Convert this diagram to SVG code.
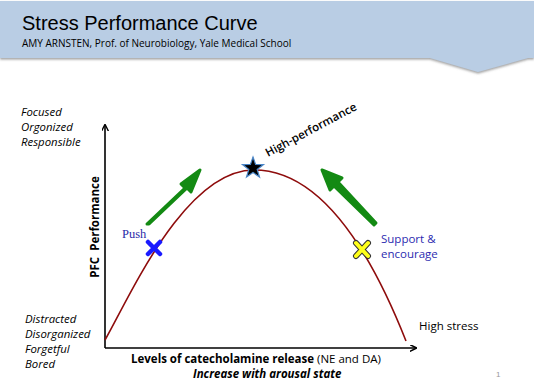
<svg xmlns="http://www.w3.org/2000/svg" width="534" height="384" viewBox="0 0 534 384">
<style>
.side{font-family:"Open Sans","Liberation Sans",sans-serif;font-style:italic;font-size:11.4px;fill:#000}
.lbl{font-family:"Open Sans","Liberation Sans",sans-serif;font-size:11.5px}
.axis{stroke:#000;stroke-width:1.6;fill:none}
.garrow{fill:#138a13}
</style>
<defs>
<marker id="ah" viewBox="0 0 10 10" refX="9" refY="5" markerWidth="7" markerHeight="7" markerUnits="userSpaceOnUse" orient="auto">
<path d="M0,0 L10,5 L0,10" fill="none" stroke="#000" stroke-width="2"/>
</marker>
<filter id="sh" x="-5%" y="-5%" width="110%" height="130%">
<feDropShadow dx="0" dy="1.5" stdDeviation="1" flood-color="#888" flood-opacity="0.8"/>
</filter>
</defs>
<g id="header">
<path d="M0,1 H534 V58 H528 L478,72 L430,58 H0 Z" fill="#b9cde4" filter="url(#sh)"/>
<text x="22" y="30" font-family="Liberation Sans,Arial,sans-serif" font-size="20" fill="#000">Stress Performance Curve</text>
<text x="22" y="47" font-family="Open Sans,Liberation Sans,sans-serif" font-size="10" fill="#000">AMY ARNSTEN, Prof. of Neurobiology, Yale Medical School</text>
</g>
<g id="side-labels">
<text class="side" x="21" y="116">Focused</text>
<text class="side" x="21" y="131">Orgonized</text>
<text class="side" x="21" y="146">Responsible</text>
<text class="side" x="25" y="323">Distracted</text>
<text class="side" x="25" y="338">Disorganized</text>
<text class="side" x="25" y="353">Forgetful</text>
<text class="side" x="25" y="368">Bored</text>
</g>
<g id="connectors">
<line class="axis" x1="105" y1="348" x2="105" y2="125" marker-end="url(#ah)"/>
<line class="axis" x1="105" y1="348" x2="416" y2="348" marker-end="url(#ah)"/>
<path d="M105,340 C130,296 185,170 254,170 C320,170 370,250 406,341" fill="none" stroke="#8e0c0c" stroke-width="1.6"/>
</g>
<g id="axis-labels">
<text class="lbl" transform="translate(99,227) rotate(-90)" text-anchor="middle" font-weight="bold" font-size="11.5" word-spacing="3">PFC Performance</text>
<text class="lbl" x="131" y="363" font-size="11.2"><tspan font-weight="bold">Levels of catecholamine release</tspan> (NE and DA)</text>
<text class="lbl" x="193" y="378" font-weight="bold" font-style="italic" font-size="11.3">Increase with arousal state</text>
<text class="lbl" x="419" y="330">High stress</text>
<text x="496" y="377" font-family="Liberation Sans,sans-serif" font-size="8" fill="#999">1</text>
</g>
<g id="push-arrow">
<path class="garrow" d="M147,224 L185,188 L181,184 L200,170 L191,192 L187,188 L149,224 Z" stroke="#138a13" stroke-width="3" stroke-linejoin="round"/>
</g>
<g id="support-arrow">
<path class="garrow" d="M374,225 L334,186 L330,190 L322,170 L342,178 L338,182 L376,223 Z" stroke="#138a13" stroke-width="3" stroke-linejoin="round"/>
</g>
<g id="push">
<path d="M148,242 L160,254 M160,242 L148,254" stroke="#1a1aff" stroke-width="4.5" stroke-linecap="round"/>
<text x="122" y="238" font-family="Liberation Serif,serif" font-size="12.5" fill="#2a2aa8">Push</text>
</g>
<g id="support">
<path d="M356,243 L368,256 M368,243 L356,256" stroke="#333" stroke-width="6" stroke-linecap="round"/>
<path d="M356,243 L368,256 M368,243 L356,256" stroke="#ffff1a" stroke-width="4" stroke-linecap="round"/>
<text class="lbl" x="381" y="243" fill="#2b2bb0" font-size="12">Support &amp;</text>
<text class="lbl" x="381" y="258" fill="#2b2bb0" font-size="12">encourage</text>
</g>
<g id="high-performance">
<polygon points="253,157 255.6,164.4 263.5,164.6 257.2,169.4 259.5,177 253,172.5 246.5,177 248.8,169.4 242.5,164.6 250.4,164.4" fill="#000" stroke="#4a86c8" stroke-width="1.2"/>
<text class="lbl" transform="translate(268,157) rotate(-28)" font-size="11.5" font-weight="600">High-performance</text>
</g>
</svg>
